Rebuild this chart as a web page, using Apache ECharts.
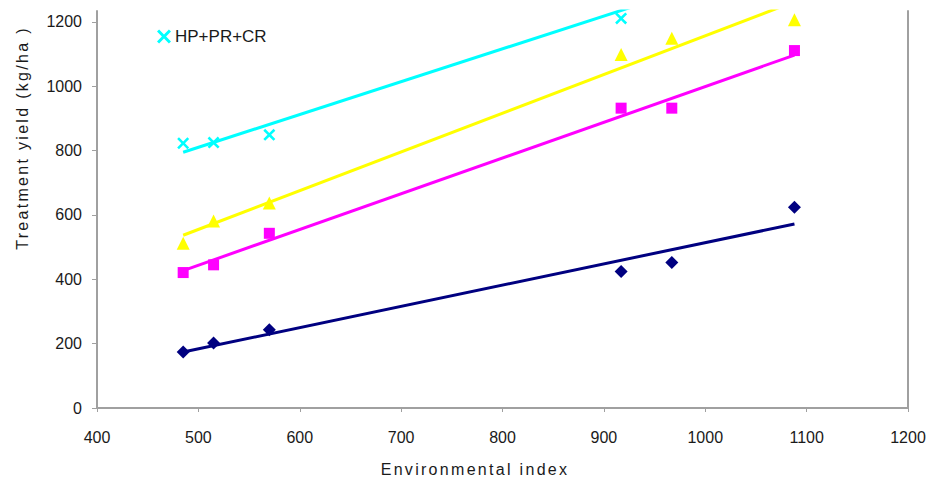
<!DOCTYPE html>
<html>
<head>
<meta charset="utf-8">
<script src="https://cdn.jsdelivr.net/npm/echarts@6/dist/echarts.min.js"></script>
<style>
  html, body { margin: 0; padding: 0; background: #fff; }
  #chart { width: 931px; height: 477px; }
  #chart text[fill="#1a1a1b"] { letter-spacing: 2.3px; }
</style>
</head>
<body>
<div id="chart"></div>
<script>
// ---- Data ----
const envIndex   = [485, 515, 570, 917, 967, 1088];
const navyVals   = [174, 202, 243, 424, 452, 624];
const pinkVals   = [421, 445, 543, 932, 932, 1111];
const yellowVals = [512, 581, 637, 1099, 1149, 1207];
const cyanVals   = [823, 825, 849, 1211];           // remaining points lie above the visible area

// fitted trend lines (end values)
const trendX      = [485, 1088];
const navyTrend   = [174, 572];
const pinkTrend   = [427, 1097];
const yellowTrend = [537, 1263];
const cyanTrend   = [795, 1410];

const xTicks = [400, 500, 600, 700, 800, 900, 1000, 1100, 1200];
const yTicks = [0, 200, 400, 600, 800, 1000, 1200];

const legendName = 'HP+PR+CR';
const xTitle = 'Environmental index';
const yTitle = 'Treatment yield (kg/ha )';

// ---- Build ----
const pairs = (xs, ys) => ys.map((y, i) => [xs[i], y]);
const FONT = '"Liberation Sans", Arial, sans-serif';
const xSymbol = 'path://M0,1.5 L1.5,0 L5,3.5 L8.5,0 L10,1.5 L6.5,5 L10,8.5 L8.5,10 L5,6.5 L1.5,10 L0,8.5 L3.5,5 Z';

const chart = echarts.init(document.getElementById('chart'), null, { renderer: 'svg' });

function trendSeries(name, vals, color) {
  return {
    name: name, type: 'line', data: pairs(trendX, vals), showSymbol: false, symbol: 'none',
    lineStyle: { color: color, width: 3 }, clip: true, silent: true, z: 2
  };
}
function scatterSeries(name, vals, color, symbol, size) {
  return {
    name: name, type: 'scatter', data: pairs(envIndex, vals), symbol: symbol, symbolSize: size,
    itemStyle: { color: color, opacity: 1 }, clip: true, z: 3
  };
}

const axisGray = '#a0a0a0';
const textColor = '#1a1a1a';
const plain = v => String(v);

chart.setOption({
  animation: false,
  backgroundColor: '#ffffff',
  textStyle: { fontFamily: FONT },
  grid: { left: 97, right: 23, top: 11, bottom: 69, containLabel: false },
  legend: {
    data: [{ name: legendName, icon: xSymbol }],
    left: 152, top: 23, itemWidth: 14, itemHeight: 14, itemGap: 4,
    textStyle: { fontSize: 17, color: textColor, fontFamily: FONT, padding: [0, 0, 0, -1] },
    selectedMode: false
  },
  xAxis: {
    type: 'value', min: 400, max: 1200, interval: 100,
    axisLine: { show: true, lineStyle: { color: axisGray, width: 2 } },
    axisTick: { show: true, length: 4, lineStyle: { color: axisGray }, customValues: xTicks },
    axisLabel: { fontSize: 16, color: textColor, margin: 21, customValues: xTicks, formatter: plain },
    splitLine: { show: false }
  },
  yAxis: [{
    type: 'value', min: 0, max: 1234, interval: 200,
    axisLine: { show: true, lineStyle: { color: axisGray, width: 2 } },
    axisTick: { show: true, length: 5, lineStyle: { color: axisGray }, customValues: yTicks },
    axisLabel: { fontSize: 16, color: textColor, margin: 15, customValues: yTicks, formatter: plain },
    splitLine: { show: false }
  }, {
    type: 'value', min: 0, max: 1234, position: 'right',
    axisLine: { show: true, lineStyle: { color: axisGray, width: 2 } },
    axisTick: { show: false }, axisLabel: { show: false }, splitLine: { show: false }
  }],
  graphic: [
    {
      type: 'text', x: 22, y: 138, rotation: Math.PI / 2,
      style: { text: yTitle, fill: '#1a1a1b', font: '16px ' + FONT, align: 'center', verticalAlign: 'middle' }
    },
    {
      type: 'text', x: 475, y: 469,
      style: { text: xTitle, fill: '#1a1a1b', font: '16px ' + FONT, align: 'center', verticalAlign: 'middle' }
    }
  ],
  series: [
    trendSeries('navy trend', navyTrend, '#000080'),
    trendSeries('pink trend', pinkTrend, '#ff00ff'),
    trendSeries('yellow trend', yellowTrend, '#ffff00'),
    trendSeries('cyan trend', cyanTrend, '#00ffff'),
    scatterSeries('navy', navyVals, '#000080', 'diamond', 13),
    scatterSeries('pink', pinkVals, '#ff00ff', 'rect', 11),
    scatterSeries('yellow', yellowVals, '#ffff00', 'triangle', 13),
    {
      name: legendName, type: 'scatter', data: pairs(envIndex, cyanVals), symbol: xSymbol, symbolSize: 12,
      itemStyle: { color: '#00ffff', opacity: 1 }, clip: true, z: 3
    }
  ]
});
</script>
</body>
</html>
